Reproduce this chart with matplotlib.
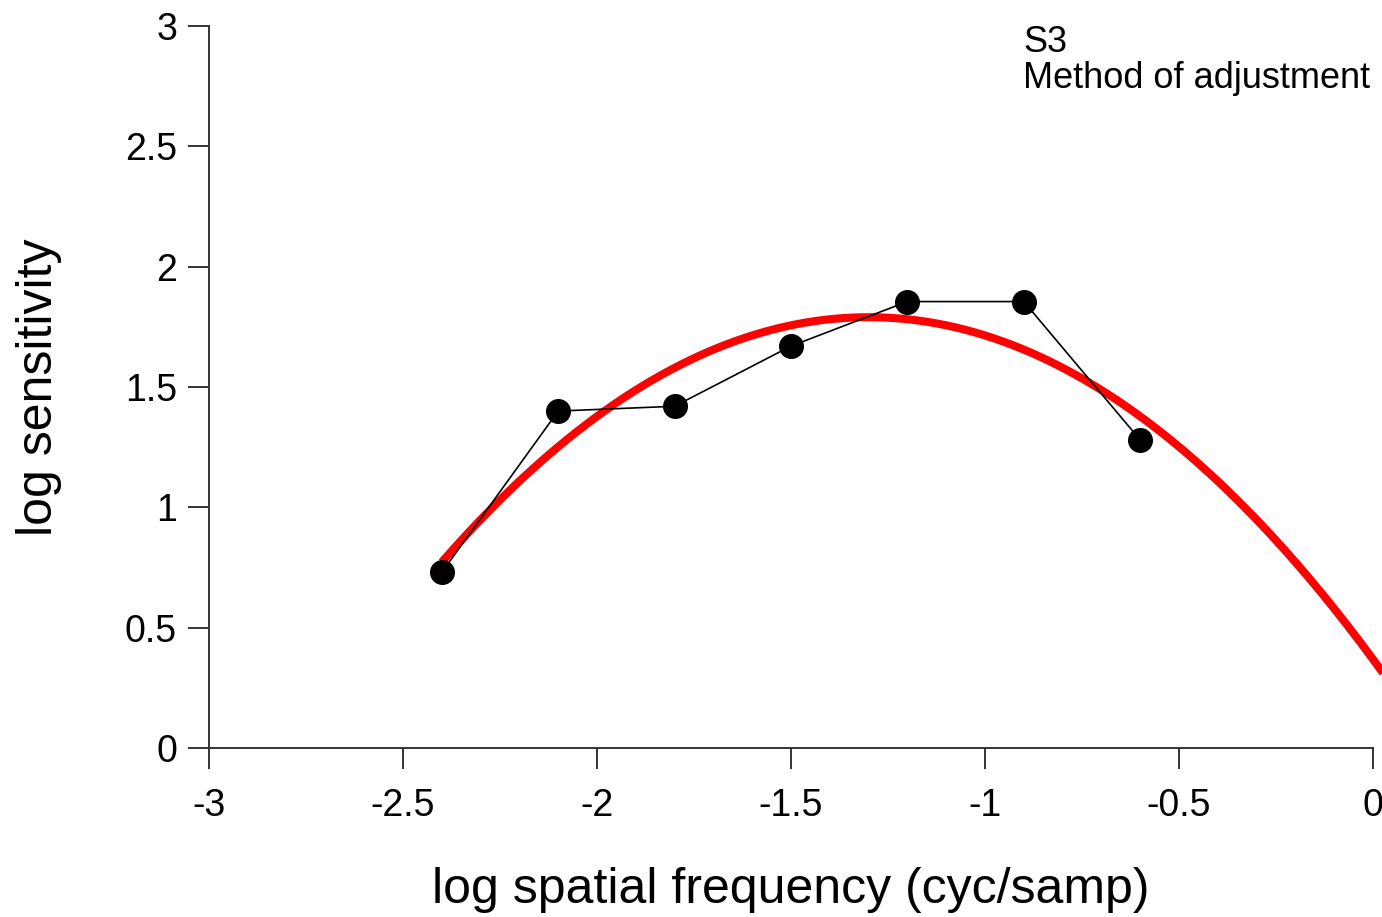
import numpy as np
import matplotlib
matplotlib.use("Agg")
import matplotlib.pyplot as plt

plt.rcParams['font.family'] = ['Liberation Sans', 'DejaVu Sans']

# Measured sensitivities
log_freq = [-2.4, -2.1, -1.8, -1.5, -1.2, -0.9, -0.6]
log_sens = [0.73, 1.40, 1.42, 1.67, 1.855, 1.855, 1.28]

# Parabolic fit (log-parabola): peak position, peak height, curvature
fit_peak_x = -1.30
fit_peak_y = 1.79
fit_curv = 0.841
fit_range = (-2.4, 0.03)

x_ticks = [-3, -2.5, -2, -1.5, -1, -0.5, 0]
x_ticklabels = ['-3', '-2.5', '-2', '-1.5', '-1', '-0.5', '0']
y_ticks = [0, 0.5, 1, 1.5, 2, 2.5, 3]
y_ticklabels = ['0', '0.5', '1', '1.5', '2', '2.5', '3']

fig = plt.figure(figsize=(13.82, 9.17), dpi=100)
ax = fig.add_axes([209/1382, 1 - 748/917, (1373 - 209)/1382, (748 - 26)/917])

xf = np.linspace(fit_range[0], fit_range[1], 300)
yf = fit_peak_y - fit_curv * (xf - fit_peak_x) ** 2
ax.plot(xf, yf, color='#ff0000', lw=5.8, clip_on=False, zorder=2, solid_capstyle='butt')

ax.plot(log_freq, log_sens, color='black', lw=1.2, marker='o', markersize=17,
        markerfacecolor='black', markeredgecolor='black', zorder=3, clip_on=False)

ax.set_xlim(-3, 0)
ax.set_ylim(0, 3)
ax.set_xticks(x_ticks)
ax.set_xticklabels(x_ticklabels)
ax.set_yticks(y_ticks)
ax.set_yticklabels(y_ticklabels)

for side in ('top', 'right'):
    ax.spines[side].set_visible(False)
for side in ('left', 'bottom'):
    ax.spines[side].set_color('#333333')
    ax.spines[side].set_linewidth(1.4)

ax.tick_params(axis='both', direction='out', length=15, width=1.4, color='#333333',
               labelsize=27, labelcolor='black')
ax.tick_params(axis='x', pad=14)
ax.tick_params(axis='y', pad=8)

ax.set_xlabel('log spatial frequency (cyc/samp)', fontsize=36, labelpad=31)
ax.set_ylabel('log sensitivity', fontsize=36, labelpad=45)

fig.text(1023/1382, 1 - 25/917, 'S3\nMethod of adjustment', fontsize=26,
         ha='left', va='top', linespacing=1.02)

fig.savefig('out.png', dpi=100)
